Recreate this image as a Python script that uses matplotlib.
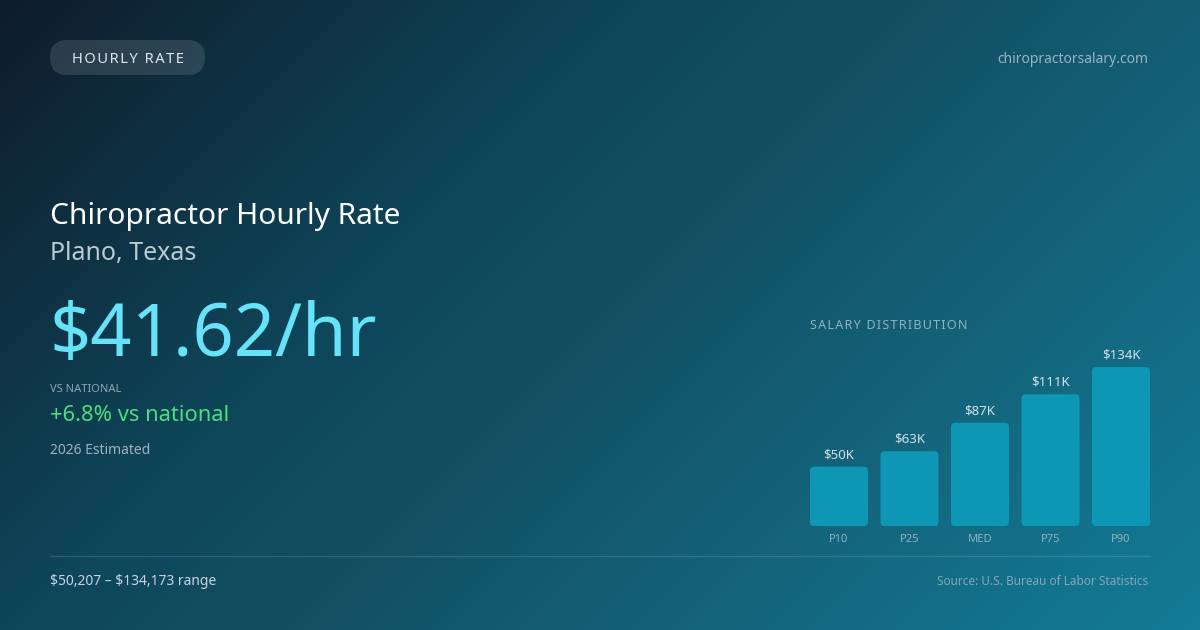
import numpy as np
import matplotlib.pyplot as plt
from matplotlib.patches import FancyBboxPatch
from matplotlib.colors import to_rgb

# salary distribution (thousands of $)
percentiles = ["P10", "P25", "MED", "P75", "P90"]
salaries_k = [50, 63, 87, 111, 134]
salary_labels = ["$50K", "$63K", "$87K", "$111K", "$134K"]

hourly_rate = "$41.62/hr"
vs_national = "+6.8% vs national"
range_text = "\\$50,207 \u2013 \\$134,173 range"

W, H = 1200, 630
plt.rcParams['font.family'] = ['Noto Sans', 'DejaVu Sans']

fig = plt.figure(figsize=(W / 100, H / 100), dpi=100)

# background in pixel coords
bg = fig.add_axes([0, 0, 1, 1])
bg.set_xlim(0, W)
bg.set_ylim(H, 0)
bg.axis("off")

xx, yy = np.meshgrid(np.arange(W), np.arange(H))
t = (xx + yy) / (W + H)
stops = [0, 0.35, 0.5, 0.65, 1]
cols = [to_rgb(c) for c in ["#0f1c2b", "#0e465a", "#124f63", "#135d73", "#147c97"]]
img = np.dstack([np.interp(t, stops, [c[i] for c in cols]) for i in range(3)])
bg.imshow(img, extent=(0, W, H, 0), aspect="auto", zorder=0)

# pill
pill = FancyBboxPatch((50, 40), 155, 35, boxstyle="round,pad=0,rounding_size=17.5",
                      fc="white", alpha=0.12, ec="none", zorder=1)
bg.add_patch(pill)
bg.text(127.5, 63, "\u200a".join("HOURLY RATE"), color="#dde6ea", fontsize=10.6,
        ha="center", va="baseline", zorder=2)
bg.text(1148, 63, "chiropractorsalary.com", color="#9ab3c1", fontsize=10,
        ha="right", va="baseline")

# headline block
bg.text(50, 224, "Chiropractor Hourly Rate", color="white", fontsize=21.5, va="baseline")
bg.text(50, 260, "Plano, Texas", color="#b9cbd4", fontsize=18, va="baseline")
bg.text(50, 356, hourly_rate, color="#67e3f9", fontsize=52, va="baseline")
bg.text(50, 392, "VS NATIONAL", color="#8ea5b2", fontsize=8, va="baseline")
bg.text(50, 421, vs_national, color="#4ade80", fontsize=15.8, va="baseline")
bg.text(50, 454, "2026 Estimated", color="#9fb1bc", fontsize=10, va="baseline")

# footer
bg.plot([50, 1150], [556, 556], color="white", alpha=0.13, lw=1)
bg.text(50, 585, range_text, color="#c6d4db", fontsize=10, va="baseline")
bg.text(1148, 585, "Source: U.S. Bureau of Labor Statistics", color="#82a7b7",
        fontsize=8.5, ha="right", va="baseline")

bg.text(810, 329, "\u200a".join("SALARY DISTRIBUTION"), color="#8fb2c1",
        fontsize=9, va="baseline")

# bar chart
ax = fig.add_axes([810 / W, 1 - 526 / H, 340 / W, 159 / H])
ax.patch.set_alpha(0)
for s in ax.spines.values():
    s.set_visible(False)
x = np.arange(len(percentiles))
bars = ax.bar(x, salaries_k, width=58 / 70.5, color="#0e97b5")
ax.set_xlim(-29 / 70.5, len(x) - 1 + 29 / 70.5)
ax.set_ylim(0, max(salaries_k))
ax.set_yticks([])
ax.set_xticks(x, percentiles)
ax.tick_params(axis="x", length=0, pad=6, labelsize=8, labelcolor="#8fb2c1")

px_x = 70.5
px_y = 159 / max(salaries_k)
for b in bars:
    fb = FancyBboxPatch((b.get_x(), 0), b.get_width(), b.get_height(),
                        boxstyle="round,pad=0,rounding_size=%f" % (4 / px_x),
                        mutation_aspect=px_x / px_y, fc=b.get_facecolor(),
                        ec="none", clip_on=False)
    b.remove()
    ax.add_patch(fb)

for xi, v, lab in zip(x, salaries_k, salary_labels):
    ax.annotate(lab, (xi, v), xytext=(0, 4), textcoords="offset points",
                ha="center", va="bottom", color="#d3e1e7", fontsize=9.5,
                annotation_clip=False)

fig.savefig("out.png", dpi=100)
